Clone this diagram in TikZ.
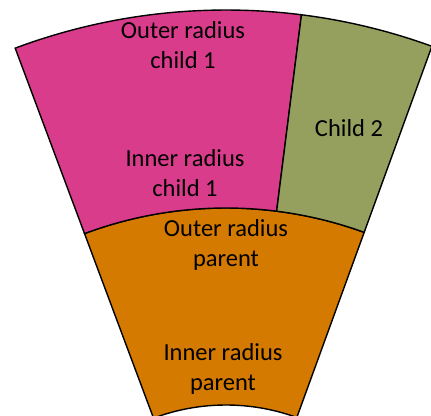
\documentclass[tikz,border=0pt]{standalone}
\usepackage{fontspec}
\setmainfont{Carlito}
\definecolor{pinkc}{HTML}{D93C8B}
\definecolor{olivec}{HTML}{96A05E}
\definecolor{orangec}{HTML}{D57A00}
\begin{document}
\begin{tikzpicture}[x=1pt,y=1pt,
  sector/.style={draw=black,line width=1.4pt,line join=miter},
  lbl/.style={align=center,font=\fontsize{24.5}{29.5}\selectfont,inner sep=0pt}]
\useasboundingbox (0,0) rectangle (431,415);
\coordinate (c) at (226,-197);
% parent
\fill[orangec] ([shift={(110.5:404)}]c) arc[start angle=110.5,end angle=70,radius=404]
  -- ([shift={(70:207)}]c) arc[start angle=70,end angle=110.5,radius=207] -- cycle;
\draw[sector] ([shift={(110.5:404)}]c) arc[start angle=110.5,end angle=70,radius=404]
  -- ([shift={(70:207)}]c) arc[start angle=70,end angle=110.5,radius=207] -- cycle;
% child 1
\draw[sector,fill=pinkc] ([shift={(110.5:602)}]c) arc[start angle=110.5,end angle=82.8,radius=602]
  -- ([shift={(82.8:404)}]c) arc[start angle=82.8,end angle=110.5,radius=404] -- cycle;
% child 2
\draw[sector,fill=olivec] ([shift={(82.8:602)}]c) arc[start angle=82.8,end angle=70,radius=602]
  -- ([shift={(70:404)}]c) arc[start angle=70,end angle=82.8,radius=404] -- cycle;
\node[lbl] (oc1) at (183,370) {Outer radius\\child 1};
\node[lbl] (ic1) at (185,242) {Inner radius\\child 1};
\node[lbl] (c2) at (349,287) {Child 2};
\node[lbl] (op) at (226,170) {Outer radius\\parent};
\node[lbl] (ip) at (223,46) {Inner radius\\parent};
\end{tikzpicture}
\end{document}
